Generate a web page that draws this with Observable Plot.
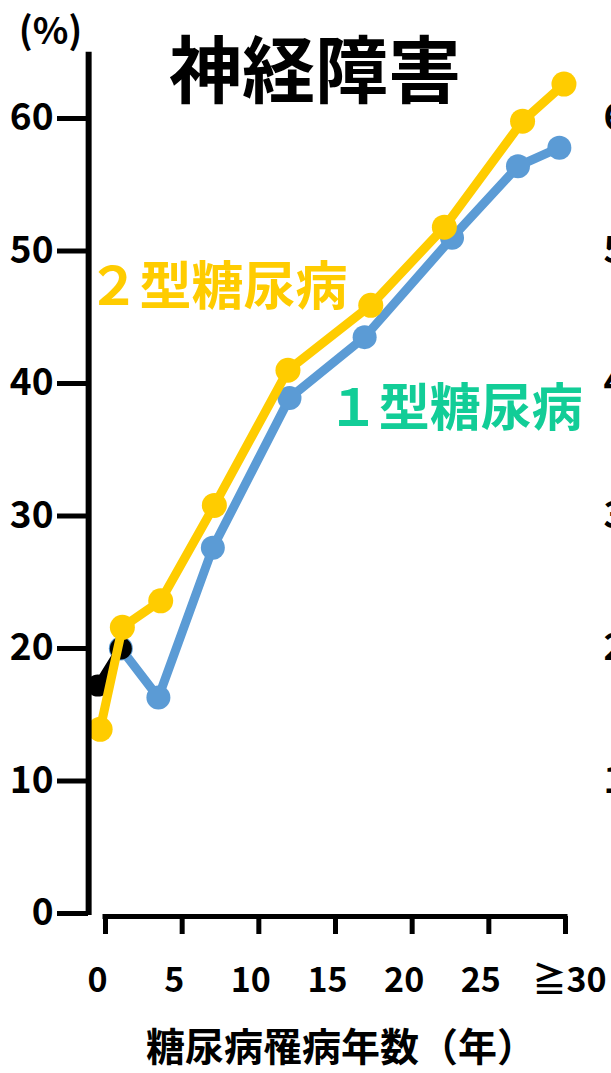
<!DOCTYPE html>
<html>
<head>
<meta charset="utf-8">
<script src="https://cdn.jsdelivr.net/npm/d3@7"></script>
<script src="https://cdn.jsdelivr.net/npm/@observablehq/plot@0.6"></script>
<style>
  html, body { margin: 0; padding: 0; background: #fff; overflow: hidden; }
  #chart svg { display: block; }
</style>
</head>
<body>
<div id="chart"></div>
<script>
// 罹病年数と神経障害の有病率（%）
const yTicks = [0, 10, 20, 30, 40, 50, 60];
const xTicks = [0, 5, 10, 15, 20, 25, 30];
const xTickLabels = ["0", "5", "10", "15", "20", "25", "≧30"];

// 2型糖尿病
const type2Years = [-0.35, 1.1, 3.6, 7.1, 11.9, 17.3, 22.1, 27.2, 29.9];
const type2Rates = [13.9, 21.6, 23.6, 30.8, 41.0, 45.9, 51.8, 59.8, 62.6];

// 1型糖尿病
const type1Years = [1.0, 3.45, 7.0, 12.0, 16.9, 22.6, 26.9, 29.6];
const type1Rates = [20.0, 16.3, 27.6, 38.9, 43.5, 51.0, 56.4, 57.8];

// 診断初期（黒）
const earlyYears = [-0.5, 1.0];
const earlyRates = [17.2, 20.0];

const title = "神経障害";
const yUnit = "(%)";
const xTitle = "糖尿病罹病年数（年）";
const type2Name = "２型糖尿病";
const type1Name = "１型糖尿病";

const YELLOW = "#FFCC00";
const BLUE = "#5B9BD5";
const TEAL = "#12CD97";
const FONT = "'Noto Sans CJK JP', 'Noto Sans', sans-serif";

const toPoints = (xs, ys) => xs.map((x, i) => ({x, y: ys[i]}));
const type2 = toPoints(type2Years, type2Rates);
const type1 = toPoints(type1Years, type1Rates);
const early = toPoints(earlyYears, earlyRates);

const chart = Plot.plot({
  width: 611,
  height: 1073,
  marginLeft: 88,
  marginRight: 46,
  marginTop: 52,
  marginBottom: 157,
  x: {domain: [0, 30], range: [105, 565]},
  y: {domain: [0, 60], range: [913, 118]},
  style: {fontFamily: FONT, background: "#fff", overflow: "visible"},
  marks: [
    // 1型
    Plot.line(type1, {x: "x", y: "y", stroke: BLUE, strokeWidth: 9}),
    Plot.dot(type1, {x: "x", y: "y", r: 12, fill: BLUE}),
    // 初期
    Plot.line(early, {x: "x", y: "y", stroke: "#000", strokeWidth: 9}),
    Plot.dot(early, {x: "x", y: "y", r: 11, fill: "#000"}),
    // 2型
    Plot.line(type2, {x: "x", y: "y", stroke: YELLOW, strokeWidth: 9}),
    Plot.dot(type2, {x: "x", y: "y", r: 12.5, fill: YELLOW}),

    // 縦軸
    Plot.ruleX([-1.1], {y1: -0.15, y2: 65, stroke: "#000", strokeWidth: 6}),
    Plot.axisY(yTicks, {
      anchor: "left", tickSize: 31, tickPadding: 4, strokeWidth: 5,
      fontSize: 37, fontWeight: "bold", label: null, fill: "#000"
    }),
    // 横軸
    Plot.ruleY([0], {x1: 0, x2: 30, dy: 3, stroke: "#000", strokeWidth: 5, strokeLinecap: "square"}),
    Plot.axisX(xTicks, {
      anchor: "bottom", tickSize: 18, strokeWidth: 5, tickFormat: () => "", label: null
    }),
    Plot.text(xTicks.slice(0, -1), {
      x: (d) => d, text: (d, i) => xTickLabels[i],
      frameAnchor: "bottom", dy: 65, dx: -8, lineAnchor: "middle",
      fontSize: 34, fontWeight: "bold", fill: "#000"
    }),
    Plot.text(xTicks.slice(-1), {
      x: (d) => d, text: () => xTickLabels[xTickLabels.length - 1],
      frameAnchor: "bottom", dy: 65, dx: 4, lineAnchor: "middle",
      fontSize: 34, fontWeight: "bold", fill: "#000"
    }),

    // 軸の単位と見出し
    Plot.text([yUnit], {frameAnchor: "top-left", dx: -38, dy: -20, textAnchor: "middle", lineAnchor: "middle",
      fontSize: 37, fontWeight: "bold", fill: "#000"}),
    Plot.text([title], {frameAnchor: "top", dx: -12, dy: 21, textAnchor: "middle", lineAnchor: "middle",
      fontSize: 73, fontWeight: "bold", fill: "#000"}),
    Plot.text([xTitle], {frameAnchor: "bottom", dx: 14, dy: 132, textAnchor: "middle", lineAnchor: "middle",
      fontSize: 39, fontWeight: "bold", fill: "#000"}),

    // 系列ラベル
    Plot.text([type2Name], {x: -1.17, y: 47.2, textAnchor: "start", lineAnchor: "middle",
      fontSize: 52, fontWeight: "bold", fill: YELLOW}),
    Plot.text([type1Name], {x: 14.5, y: 38.0, textAnchor: "start", lineAnchor: "middle",
      fontSize: 51, fontWeight: "bold", fill: TEAL}),

    // 隣のパネルの縦軸目盛
    Plot.text(yTicks.slice(1), {y: (d) => d, text: (d) => String(d), frameAnchor: "right",
      dx: 38, textAnchor: "start", lineAnchor: "middle",
      fontSize: 37, fontWeight: "bold", fill: "#000"}),
    Plot.text([yUnit], {frameAnchor: "top-left", dx: 552, dy: -20, textAnchor: "middle", lineAnchor: "middle",
      fontSize: 37, fontWeight: "bold", fill: "#000"})
  ]
});

document.getElementById("chart").appendChild(chart);
</script>
</body>
</html>
